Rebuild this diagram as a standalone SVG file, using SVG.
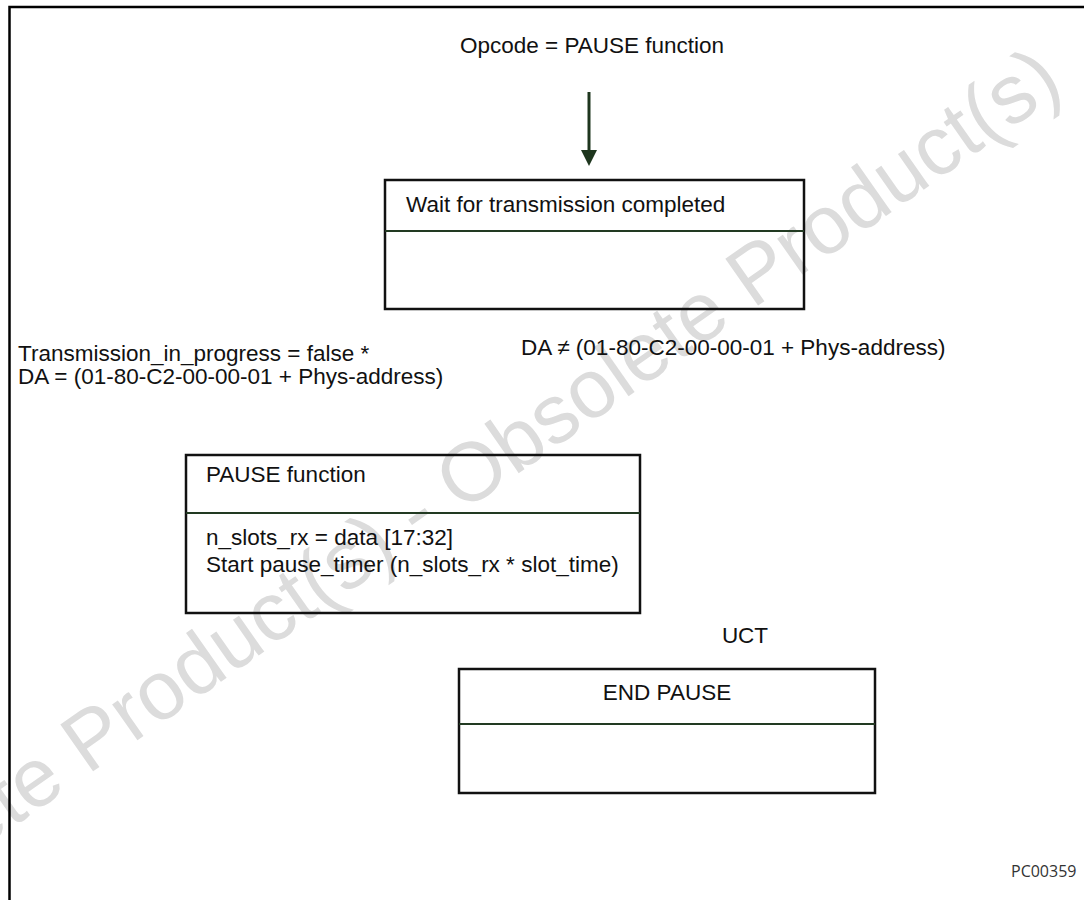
<svg xmlns="http://www.w3.org/2000/svg" width="1084" height="900" viewBox="0 0 1084 900">
<defs>
<style>
.t{font-family:"Liberation Sans",Arial,sans-serif;font-size:22.5px;fill:#111}
.box{fill:none;stroke:#111;stroke-width:2.5}
.div{stroke:#223a22;stroke-width:2}
.wm{font-family:"Liberation Sans",Arial,sans-serif;font-size:83px;fill:#dcdcdc}
.id{font-family:"Open Sans","DejaVu Sans",sans-serif;font-size:16px;fill:#333}
</style>
</defs>
<rect width="1084" height="900" fill="#fff"/>
<g id="watermark">
<text class="wm" transform="translate(1066,90) rotate(-35)" text-anchor="end">Obsolete Product(s) - Obsolete Product(s)</text>
</g>
<g id="frame">
<path d="M9.5,900 L9.5,7 L1084,7" fill="none" stroke="#000" stroke-width="2.5"/>
</g>
<g id="connectors">
<line x1="589" y1="92" x2="589" y2="151" stroke="#1e361e" stroke-width="3"/>
<path d="M581,150 L597,150 L589,166 Z" fill="#1e361e"/>
</g>
<g id="start">
<text class="t" x="460" y="53">Opcode = PAUSE function</text>
</g>
<g id="wait">
<rect class="box" x="385" y="180" width="419" height="129"/>
<line class="div" x1="385" y1="231" x2="804" y2="231"/>
<text class="t" x="406" y="212">Wait for transmission completed</text>
</g>
<g id="labels">
<text class="t" x="18" y="361">Transmission_in_progress = false *</text>
<text class="t" x="18" y="384">DA = (01-80-C2-00-00-01 + Phys-address)</text>
<text class="t" x="521" y="355">DA ≠ (01-80-C2-00-00-01 + Phys-address)</text>
<text class="t" x="745" y="643" text-anchor="middle">UCT</text>
</g>
<g id="pause">
<rect class="box" x="186" y="455" width="454" height="158"/>
<line class="div" x1="186" y1="513" x2="640" y2="513"/>
<text class="t" x="206" y="482">PAUSE function</text>
<text class="t" x="206" y="545">n_slots_rx = data [17:32]</text>
<text class="t" x="206" y="572">Start pause_timer (n_slots_rx * slot_time)</text>
</g>
<g id="endpause">
<rect class="box" x="459" y="669" width="416" height="124"/>
<line class="div" x1="459" y1="724" x2="875" y2="724"/>
<text class="t" x="667" y="700" text-anchor="middle">END PAUSE</text>
</g>
<text class="id" x="1011" y="877">PC00359</text>
</svg>
